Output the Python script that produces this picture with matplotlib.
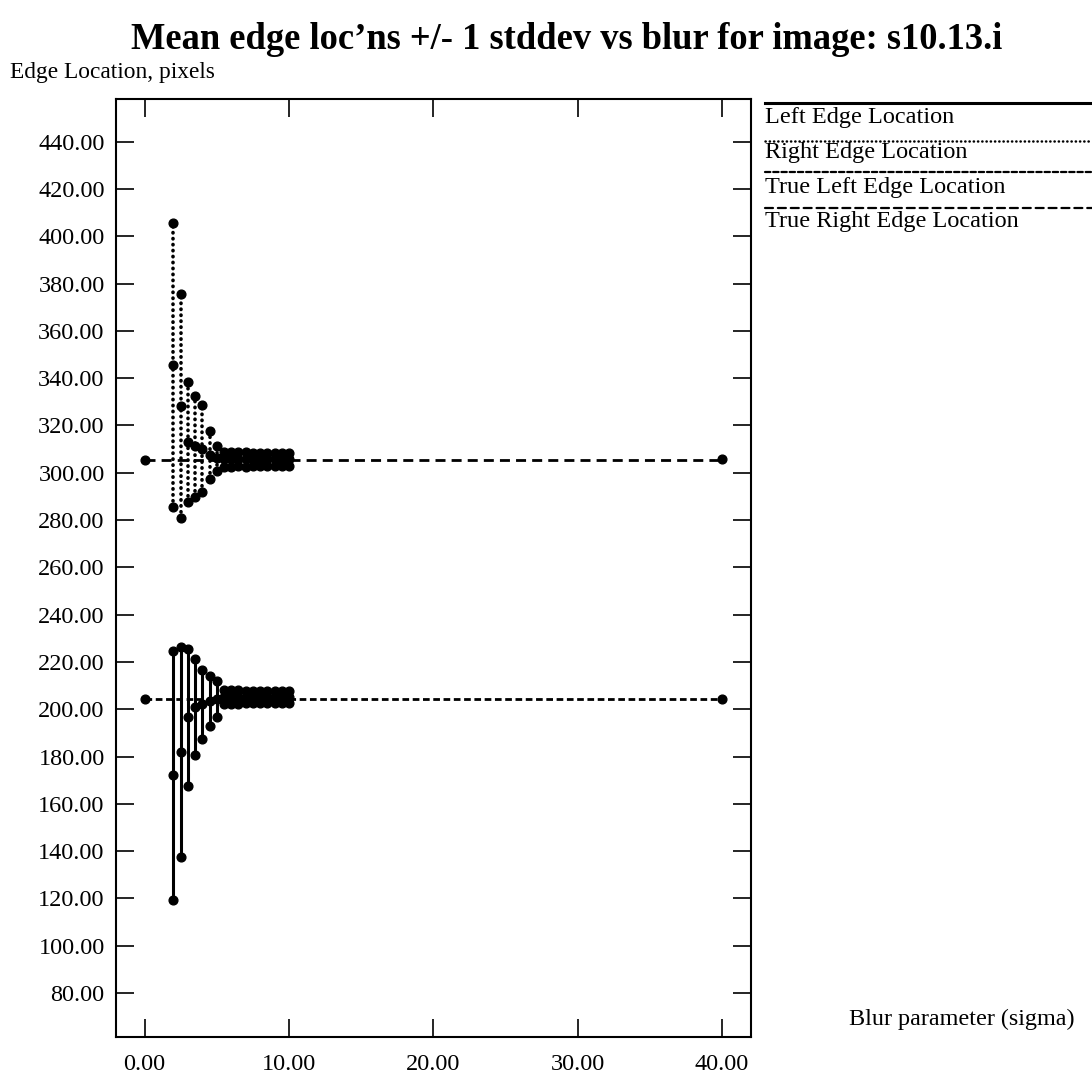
import matplotlib
matplotlib.use('Agg')
import matplotlib.pyplot as plt
from matplotlib.lines import Line2D
import numpy as np

plt.rcParams['font.family'] = ['Liberation Serif', 'DejaVu Serif']

# blur parameter (sigma) values
sigma = [0.0, 2.0, 2.5, 3.0, 3.5, 4.0, 4.5, 5.0, 5.5, 6.0, 6.5, 7.0, 7.5,
         8.0, 8.5, 9.0, 9.5, 10.0, 40.0]

# left edge: mean and stddev
left_mean = [204.2, 172.0, 182.0, 196.5, 200.9, 202.0, 203.6, 204.4, 205.1,
             205.2, 205.2, 205.2, 205.2, 205.2, 205.2, 205.2, 205.2, 205.2, 204.4]
left_sd = [0.0, 52.5, 44.5, 28.9, 20.2, 14.7, 10.5, 7.6, 2.9, 2.8, 2.8, 2.7,
           2.7, 2.7, 2.7, 2.6, 2.6, 2.6, 0.0]

# right edge: mean and stddev
right_mean = [305.4, 345.6, 328.2, 313.0, 311.2, 310.2, 307.5, 306.1, 305.7,
              305.7, 305.7, 305.6, 305.6, 305.6, 305.6, 305.6, 305.6, 305.6, 305.6]
right_sd = [0.0, 59.9, 47.4, 25.2, 21.4, 18.5, 10.3, 5.3, 3.2, 3.1, 3.0, 3.0,
            2.9, 2.9, 2.9, 2.8, 2.8, 2.8, 0.0]

# true edge locations
true_x = [0.0, 40.0]
true_left = [204.3, 204.3]
true_right = [305.5, 305.5]

legend_names = ['Left Edge Location', 'Right Edge Location',
                'True Left Edge Location', 'True Right Edge Location']

fig = plt.figure(figsize=(10.92, 10.8), dpi=100)
ax = fig.add_axes([0.106, 0.0398, 0.5817, 0.8685])

ls_left = '-'
ls_right = (0, (0.1, 1.55))
ls_tleft = (0, (2.4, 1.3))
ls_tright = (0, (3.6, 2.2))

# true edge lines
ax.plot(true_x, true_left, color='black', lw=2.0, linestyle=ls_tleft)
ax.plot(true_x, true_right, color='black', lw=2.0, linestyle=ls_tright)

# error bars: mean +/- 1 stddev
for x, m, s in zip(sigma, left_mean, left_sd):
    if s > 0:
        ax.plot([x, x], [m - s, m + s], color='black', lw=2.2, linestyle=ls_left)
        ax.plot([x, x, x], [m - s, m, m + s], 'o', color='black', ms=6.3)
    else:
        ax.plot([x], [m], 'o', color='black', ms=6.3)

for x, m, s in zip(sigma, right_mean, right_sd):
    if s > 0:
        ax.plot([x, x], [m - s, m + s], color='black', lw=2.6,
                linestyle=ls_right, dash_capstyle='round')
        ax.plot([x, x, x], [m - s, m, m + s], 'o', color='black', ms=6.3)
    else:
        ax.plot([x], [m], 'o', color='black', ms=6.3)

ax.set_xlim(-2, 42)
ax.set_ylim(61.4, 458)
ax.set_xticks(np.arange(0, 41, 10))
ax.set_yticks(np.arange(80, 441, 20))
ax.xaxis.set_major_formatter(plt.FormatStrFormatter('%.2f'))
ax.yaxis.set_major_formatter(plt.FormatStrFormatter('%.2f'))
ax.tick_params(direction='in', length=13, width=1.2, labelsize=17.5,
               top=True, right=True, color='black')
ax.tick_params(axis='x', pad=12)
ax.tick_params(axis='y', pad=8)
for sp in ax.spines.values():
    sp.set_linewidth(1.5)

# titles
fig.text(0.519, 0.963, "Mean edge loc\u2019ns +/- 1 stddev vs blur for image: s10.13.i",
         ha='center', va='center', fontsize=26.3, fontweight='bold')
fig.text(0.009, 0.933, 'Edge Location, pixels', ha='left', va='center', fontsize=16.8)
fig.text(0.984, 0.056, 'Blur parameter (sigma)', ha='right', va='center', fontsize=17.4)

# legend at the right, line above each label
styles = [(ls_left, 2.2), ((0, (0.1, 1.6)), 1.8), (ls_tleft, 1.6), (ls_tright, 1.6)]
line_y = [103, 141, 172, 208]
text_y = [117, 153, 188, 222]
for name, (ls, lw), ly, ty in zip(legend_names, styles, line_y, text_y):
    fig.lines.append(Line2D([765 / 1092, 1.0], [1 - ly / 1080, 1 - ly / 1080],
                            transform=fig.transFigure, color='black', lw=lw,
                            linestyle=ls, dash_capstyle='round'))
    fig.text(765 / 1092, 1 - ty / 1080, name, ha='left', va='center', fontsize=17.5)

fig.savefig('out.png', dpi=100)
